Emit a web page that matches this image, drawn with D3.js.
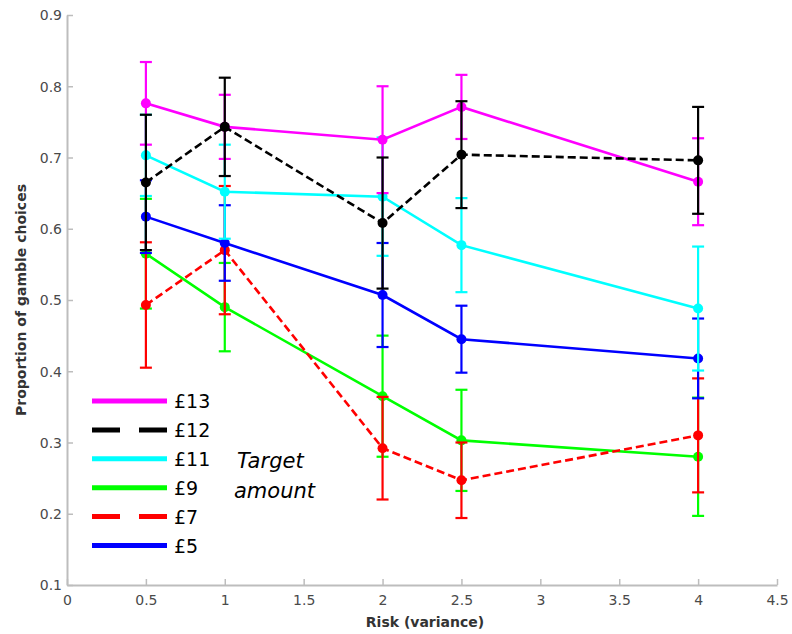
<!DOCTYPE html>
<html>
<head>
<meta charset="utf-8">
<script src="https://cdn.jsdelivr.net/npm/d3@7"></script>
<style>
  html, body { margin: 0; padding: 0; background: #fff; }
  svg { display: block; }
</style>
</head>
<body>
<svg id="chart" width="792" height="634"></svg>
<script>
// ---- data ----
const riskLevels = [0.5, 1, 2, 2.5, 4];
const seriesNames = ["£13", "£12", "£11", "£9", "£7", "£5"];
const mean13 = [0.776, 0.743, 0.725, 0.771, 0.666];
const err13  = [0.058, 0.045, 0.075, 0.045, 0.061];
const mean12 = [0.665, 0.743, 0.608, 0.704, 0.696];
const err12  = [0.095, 0.069, 0.092, 0.075, 0.075];
const mean11 = [0.703, 0.652, 0.645, 0.577, 0.488];
const err11  = [0.057, 0.066, 0.083, 0.066, 0.087];
const mean9  = [0.565, 0.490, 0.365, 0.303, 0.280];
const err9   = [0.077, 0.062, 0.085, 0.071, 0.083];
const mean7  = [0.493, 0.570, 0.292, 0.247, 0.310];
const err7   = [0.088, 0.090, 0.072, 0.053, 0.080];
const mean5  = [0.617, 0.580, 0.507, 0.445, 0.418];
const err5   = [0.051, 0.053, 0.073, 0.047, 0.056];
const xTicks = [0, 0.5, 1, 1.5, 2, 2.5, 3, 3.5, 4, 4.5];
const yTicks = [0.1, 0.2, 0.3, 0.4, 0.5, 0.6, 0.7, 0.8, 0.9];

const series = [
  { name: seriesNames[0], mean: mean13, err: err13, color: "#ff00ff", dashed: false },
  { name: seriesNames[1], mean: mean12, err: err12, color: "#000000", dashed: true },
  { name: seriesNames[2], mean: mean11, err: err11, color: "#00ffff", dashed: false },
  { name: seriesNames[3], mean: mean9,  err: err9,  color: "#00ff00", dashed: false },
  { name: seriesNames[4], mean: mean7,  err: err7,  color: "#ff0000", dashed: true },
  { name: seriesNames[5], mean: mean5,  err: err5,  color: "#0000ff", dashed: false }
];
const drawOrder = ["£9", "£7", "£5", "£11", "£13", "£12"];

// ---- scales ----
const svg = d3.select("#chart");
const x = d3.scaleLinear().domain([0, 4.5]).range([67, 777]);
const y = d3.scaleLinear().domain([0.1, 0.9]).range([585, 15]);

const axisColor = "#bdbdbd";
const labelColor = "#4a4a4a";

// axes
const xAxis = svg.append("g")
  .attr("transform", `translate(0,${y(0.1)})`)
  .call(d3.axisBottom(x).tickValues(xTicks).tickFormat(d3.format("")).tickSizeInner(-6).tickSizeOuter(0).tickPadding(10));
const yAxis = svg.append("g")
  .attr("transform", `translate(${x(0)},0)`)
  .call(d3.axisLeft(y).tickValues(yTicks).tickFormat(d3.format(".1f")).tickSizeInner(-6).tickSizeOuter(0).tickPadding(5));

[xAxis, yAxis].forEach(a => {
  a.select(".domain").attr("stroke", axisColor).attr("stroke-width", 2);
  a.selectAll(".tick line").attr("stroke", axisColor).attr("stroke-width", 1.5);
  a.selectAll(".tick text")
    .attr("fill", labelColor)
    .style("font-family", "DejaVu Sans, Arial, sans-serif")
    .style("font-size", "14px");
});
yAxis.selectAll(".tick text").attr("dy", "0.35em");

// axis titles
svg.append("text")
  .attr("x", 425).attr("y", 627)
  .attr("text-anchor", "middle")
  .attr("fill", "#333")
  .style("font-family", "DejaVu Sans, Arial, sans-serif")
  .style("font-weight", "bold")
  .style("font-size", "14px")
  .text("Risk (variance)");

svg.append("text")
  .attr("transform", `translate(26,300) rotate(-90)`)
  .attr("text-anchor", "middle")
  .attr("fill", "#333")
  .style("font-family", "DejaVu Sans, Arial, sans-serif")
  .style("font-weight", "bold")
  .style("font-size", "14px")
  .text("Proportion of gamble choices");

// ---- series ----
const line = d3.line().x(d => x(d.x)).y(d => y(d.y));
const plot = svg.append("g");

drawOrder.forEach(name => {
  const s = series.find(t => t.name === name);
  const pts = riskLevels.map((r, i) => ({ x: r, y: s.mean[i], e: s.err[i] }));
  const g = plot.append("g");
  // error bars
  const eb = g.selectAll(".eb").data(pts).enter().append("g");
  eb.append("line")
    .attr("x1", d => x(d.x)).attr("x2", d => x(d.x))
    .attr("y1", d => y(d.y - d.e)).attr("y2", d => y(d.y + d.e))
    .attr("stroke", s.color).attr("stroke-width", 2.2);
  [-1, 1].forEach(sign => {
    eb.append("line")
      .attr("x1", d => x(d.x) - 6).attr("x2", d => x(d.x) + 6)
      .attr("y1", d => y(d.y + sign * d.e)).attr("y2", d => y(d.y + sign * d.e))
      .attr("stroke", s.color).attr("stroke-width", 2.2);
  });
  // line
  g.append("path")
    .datum(pts)
    .attr("d", line)
    .attr("fill", "none")
    .attr("stroke", s.color)
    .attr("stroke-width", 2.6)
    .attr("stroke-dasharray", s.dashed ? "8,4" : null);
  // markers
  g.selectAll("circle").data(pts).enter().append("circle")
    .attr("cx", d => x(d.x)).attr("cy", d => y(d.y))
    .attr("r", 5)
    .attr("fill", s.color);
});

// ---- legend ----
const legend = svg.append("g");
series.forEach((s, i) => {
  const ly = 401 + i * 28.9;
  legend.append("line")
    .attr("x1", 92).attr("x2", 167)
    .attr("y1", ly).attr("y2", ly)
    .attr("stroke", s.color)
    .attr("stroke-width", 5)
    .attr("stroke-dasharray", s.dashed ? "28,19" : null);
  legend.append("text")
    .attr("x", 174).attr("y", ly + 7)
    .attr("fill", "#000")
    .style("font-family", "DejaVu Sans, Arial, sans-serif")
    .style("font-size", "19px")
    .text(s.name);
});
legend.append("text")
  .attr("x", 237).attr("y", 468)
  .style("font-family", "DejaVu Sans, Arial, sans-serif")
  .style("font-style", "italic")
  .style("font-size", "21px")
  .text("Target");
legend.append("text")
  .attr("x", 234).attr("y", 498)
  .style("font-family", "DejaVu Sans, Arial, sans-serif")
  .style("font-style", "italic")
  .style("font-size", "21px")
  .text("amount");
</script>
</body>
</html>
